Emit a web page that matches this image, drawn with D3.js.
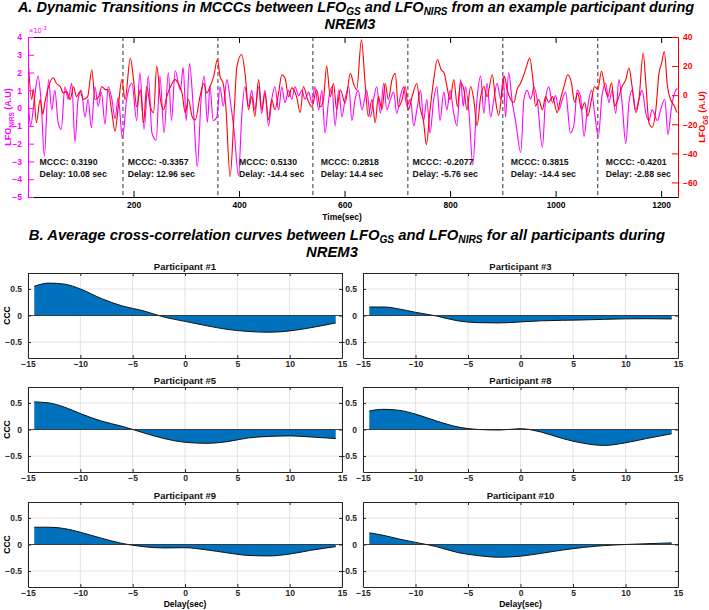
<!DOCTYPE html>
<html>
<head>
<meta charset="utf-8">
<script src="https://cdn.jsdelivr.net/npm/d3@7"></script>
<style>
  body { margin: 0; background: #fff; }
  text { font-family: "Liberation Sans", Arial, Helvetica, sans-serif; }
</style>
</head>
<body>
<svg id="fig" width="709" height="610"></svg>
<script>
// ---------- data: panel A ----------
const timeTicks = [200, 400, 600, 800, 1000, 1200]
const nirsTicks = [4, 3, 2, 1, 0, -1, -2, -3, -4, -5]
const gsTicks = [40, 20, 0, -20, -40, -60]
const segBounds = [180, 360, 540, 720, 900, 1080]
const mcccVals = ['0.3190', '-0.3357', '0.5130', '0.2818', '-0.2077', '0.3815', '-0.4201']
const delayVals = ['10.08', '12.96', '-14.4', '14.4', '-5.76', '-14.4', '-2.88']
const labelTime = [22, 189, 400, 555, 729, 915, 1095]

// LFO NIRS (x10^-3), [time, value]
const nirs = [[0.6,0.3],[5,-1.0],[12,0.5],[19,1.8],[25,0.3],[31,-2.7],[39,1.6],[45,-0.1],[51,1.0],[57,-0.8],[63,-1.2],[70,1.2],[76,0.5],[83,1.4],[89,-1.9],[95,0.5],[101,1.0],[108,-0.5],[114,0.5],[120,-1.1],[127,1.2],[133,0.1],[139,0.9],[146,-0.9],[152,1.2],[159,0.5],[165,-0.6],[171,0.6],[179,-1.7],[187,0.5],[197,1.4],[206,-0.7],[212,2.0],[220,-1.2],[228,1.8],[235,-1.4],[243,-1.8],[250,1.8],[258,-1.4],[266,2.0],[272,-0.7],[279,2.1],[289,1.0],[294,2.3],[300,-0.7],[306,2.5],[314,-0.3],[321,-3.3],[328,0.5],[334,1.8],[340,-0.8],[345,1.2],[351,-0.7],[358,-0.5],[364,1.2],[370,0.1],[377,1.6],[383,0.5],[391,-1.4],[399,-3.8],[405,-0.5],[411,1.2],[418,0.1],[424,1.0],[430,-0.1],[437,1.2],[443,-0.3],[449,1.0],[456,-1.0],[462,0.5],[468,1.2],[475,-0.1],[481,1.2],[487,0.3],[494,1.0],[500,0.5],[506,1.2],[513,0.7],[519,1.0],[525,0.5],[532,0.9],[538,0.3],[544,1.2],[551,-0.1],[557,1.0],[563,-1.4],[570,0.5],[576,1.2],[582,-1.0],[589,1.0],[595,-0.5],[601,0.5],[608,1.2],[614,-0.7],[620,0.5],[626,1.0],[633,-0.1],[642,1.0],[649,-0.5],[655,0.5],[661,1.2],[668,-0.3],[674,1.4],[680,-0.1],[687,0.5],[693,0.9],[699,-0.3],[706,0.7],[712,1.2],[718,0.1],[725,0.5],[731,-1.0],[737,-0.1],[744,1.0],[750,-0.7],[756,0.5],[762,-1.4],[769,0.5],[775,1.2],[781,-0.7],[788,0.9],[794,-0.1],[800,1.0],[807,-0.3],[813,-1.0],[820,1.6],[825,0.1],[829,1.2],[836,-0.3],[843,-3.2],[851,0.5],[858,1.8],[864,-0.3],[870,1.4],[877,-0.5],[883,0.5],[889,1.4],[896,0.5],[901,1.8],[905,-0.5],[911,2.0],[918,0.3],[924,-0.7],[934,-2.5],[940,0.5],[946,1.0],[953,0.5],[959,1.2],[965,0.5],[975,-2.2],[981,0.5],[987,1.2],[994,0.3],[1000,0.7],[1006,-0.1],[1013,0.5],[1019,0.9],[1028,-1.4],[1035,-0.9],[1041,1.0],[1047,0.7],[1054,-1.6],[1060,-0.1],[1068,1.0],[1074,-0.3],[1081,-1.6],[1088,0.7],[1095,1.4],[1101,0.3],[1107,1.0],[1114,-0.3],[1120,1.6],[1126,0.3],[1133,-2.0],[1139,0.3],[1145,1.0],[1152,-0.1],[1158,0.5],[1164,1.0],[1171,-0.3],[1177,-0.7],[1183,-0.1],[1193,-0.7],[1199,-0.1],[1207,0.5],[1213,-1.5],[1219,-0.1],[1226,0.9],[1231,1.1]]

// LFO GS, [time, value]
const gs = [[0.6,23],[7,-3],[10,4],[16,-19],[23,-3],[28,-13],[32,-5],[39,6],[48,12],[54,8],[61,6],[67,1.5],[73,2.6],[80,-3],[86,6],[92,-1],[99,2.6],[105,-3],[113,-1],[121,17.5],[127,-3],[134,-1],[140,6],[146,4],[152,3.7],[159,-12],[165,-25],[171,-8],[178,10.7],[184,-3],[194,25.6],[200,10.7],[206,-8],[213,3.7],[219,-19],[225,6],[232,-8],[238,-12],[244,20],[251,-3],[257,-10],[263,-1],[273,8],[279,10.7],[285,8],[292,1.5],[298,-12],[304,-3],[311,-14.6],[317,-17],[326,-1],[333,8],[339,1.5],[345,6],[352,13],[359,24.5],[364,13],[370,8],[375,-8],[383,-56],[391,-10],[396,20],[405,28],[412,13],[418,-10],[424,-1],[430,-14.6],[437,10.7],[443,-10],[449,1.5],[456,-17],[462,-3],[468,-10],[475,1.5],[481,14],[487,12],[494,-1],[500,5],[509,-1],[516,-12],[522,6],[530,-3],[538,-8],[547,3.7],[554,-8],[560,-3],[566,20],[573,-1],[579,8],[585,-10],[592,3.7],[601,-5.5],[611,15],[617,8],[623,3.7],[632,38],[639,8],[645,-14.6],[652,-3],[658,-19],[664,-1],[671,-10],[677,8],[683,-3],[690,10.7],[696,15],[702,-8],[709,-3],[715,6],[721,-10],[728,-1],[737,8],[743,-8],[750,-19],[755,-34],[762,-10],[769,10.7],[776,24.5],[783,17.5],[789,15],[794,6],[800,-3],[807,10.7],[814,-8],[820,8.5],[826,4],[832,-10],[839,6],[845,-3],[851,-21],[858,-1],[864,6],[870,-1],[880,14],[886,-3],[892,-14],[899,4],[903,13],[908,4],[915,-3],[921,-5],[927,4],[934,8.5],[943,17.6],[951,25.6],[957,10.7],[962,-7.5],[968,-3],[975,-10],[981,-1],[987,-5],[994,-1],[1003,-12],[1009,-3],[1016,6],[1023,14],[1030,8.5],[1036,-5],[1042,1.6],[1049,-10],[1055,-5],[1061,-14.4],[1068,-3],[1074,6],[1080,4],[1087,16.5],[1093,6],[1099,-1],[1106,8.5],[1112,-7.5],[1118,-3],[1126,6],[1133,10.7],[1139,18.7],[1145,6],[1152,-12],[1158,-3],[1166,29],[1171,8.5],[1177,-19],[1183,-22],[1190,-10],[1196,15],[1201,22],[1206,30],[1212,6],[1218,-3],[1225,-7.5],[1230,-12]]

// ---------- data: panel B ----------
const delays = [-14.4, -13, -11.5, -10, -8, -6, -4, -2, 0, 2, 4, 6, 8, 10, 12, 14.4]
const delayTicks = [-15, -10, -5, 0, 5, 10, 15]
const cccTicks = [-0.5, 0, 0.5]
const participants = ['Participant #1', 'Participant #3', 'Participant #5', 'Participant #8', 'Participant #9', 'Participant #10']
const ccc1 = [0.55, 0.61, 0.59, 0.50, 0.32, 0.18, 0.09, -0.03, -0.11, -0.19, -0.26, -0.30, -0.315, -0.29, -0.23, -0.14]
const ccc3 = [0.16, 0.16, 0.12, 0.06, -0.01, -0.10, -0.135, -0.14, -0.12, -0.10, -0.09, -0.083, -0.072, -0.063, -0.06, -0.065]
const ccc5 = [0.52, 0.50, 0.42, 0.30, 0.16, 0.06, -0.06, -0.17, -0.24, -0.26, -0.23, -0.16, -0.13, -0.12, -0.14, -0.17]
const ccc8 = [0.35, 0.38, 0.36, 0.29, 0.16, 0.05, 0.0, -0.01, 0.015, -0.05, -0.17, -0.26, -0.30, -0.25, -0.17, -0.08]
const ccc9 = [0.325, 0.325, 0.30, 0.23, 0.12, 0.02, -0.04, -0.065, -0.06, -0.10, -0.156, -0.205, -0.215, -0.18, -0.11, -0.04]
const ccc10 = [0.22, 0.17, 0.10, 0.04, -0.04, -0.15, -0.21, -0.24, -0.22, -0.165, -0.105, -0.055, -0.02, 0.0, 0.015, 0.03]
const cccCurves = [ccc1, ccc3, ccc5, ccc8, ccc9, ccc10]

// ---------- setup ----------
const svg = d3.select('#fig')
const MAG = '#ff00ff'
const RED = '#ff0000'
const AXC = '#262626'
const FS = 8.5

// text with subscripts; parts = [text, isSub]
function richText(g, parts, subSize, shift) {
  parts.forEach((p, i) => {
    const prevSub = i > 0 && parts[i - 1][1]
    const t = g.append('tspan').text(p[0])
    if (p[1]) t.attr('font-size', subSize).attr('dy', shift)
    else if (prevSub) t.attr('dy', -shift)
  })
  return g
}

function styleAxis(g, color) {
  g.selectAll('text').attr('font-size', FS).attr('font-weight', 'bold').attr('fill', color)
  g.selectAll('line').attr('stroke', color)
  g.select('.domain').attr('stroke', color)
}

// ---------- panel A ----------
const A = { left: 28, right: 678, top: 37, bottom: 197 }
const x = d3.scaleLinear().domain([0, 1232]).range([A.left, A.right])
const yL = d3.scaleLinear().domain([-5, 4]).range([A.bottom, A.top])
const yR = d3.scaleLinear().domain([-70, 40]).range([A.bottom, A.top])

richText(svg.append('text')
  .attr('x', 356).attr('y', 12).attr('text-anchor', 'middle')
  .attr('font-size', 14.5).attr('font-weight', 'bold').attr('font-style', 'italic'),
  [['A. Dynamic Transitions in MCCCs between LFO', false], ['GS', true], [' and LFO', false], ['NIRS', true], [' from an example participant during', false]], 10, 2.5)
svg.append('text').attr('x', 350).attr('y', 29).attr('text-anchor', 'middle')
  .attr('font-size', 14.5).attr('font-weight', 'bold').attr('font-style', 'italic').text('NREM3')

const pA = svg.append('g')

// segment separators
pA.selectAll('.seg').data(segBounds).enter().append('line')
  .attr('class', 'seg')
  .attr('x1', d => x(d)).attr('x2', d => x(d))
  .attr('y1', A.top).attr('y2', A.bottom)
  .attr('stroke', '#333').attr('stroke-width', 1).attr('stroke-dasharray', '4,3')

const clip = svg.append('clipPath').attr('id', 'clipA')
clip.append('rect').attr('x', A.left).attr('y', A.top).attr('width', A.right - A.left).attr('height', A.bottom - A.top)

const lineN = d3.line().x(d => x(d[0])).y(d => yL(d[1])).curve(d3.curveMonotoneX)
const lineG = d3.line().x(d => x(d[0])).y(d => yR(d[1])).curve(d3.curveMonotoneX)

pA.append('path').datum(nirs).attr('d', lineN)
  .attr('fill', 'none').attr('stroke', MAG).attr('stroke-width', 1.1).attr('clip-path', 'url(#clipA)')
pA.append('path').datum(gs).attr('d', lineG)
  .attr('fill', 'none').attr('stroke', RED).attr('stroke-width', 1.1).attr('clip-path', 'url(#clipA)')

// annotations
const ann = pA.selectAll('.ann').data(mcccVals).enter().append('g').attr('class', 'ann')
ann.append('text')
  .attr('x', (d, i) => x(labelTime[i])).attr('y', yL(-3.2))
  .attr('font-size', FS + 0.2).attr('font-weight', 'bold').attr('fill', '#111')
  .text(d => `MCCC: ${d}`)
ann.append('text')
  .attr('x', (d, i) => x(labelTime[i])).attr('y', yL(-3.85))
  .attr('font-size', FS + 0.2).attr('font-weight', 'bold').attr('fill', '#111')
  .text((d, i) => `Delay: ${delayVals[i]} sec`)

// axes
const gxb = pA.append('g').attr('transform', `translate(0,${A.bottom})`)
  .call(d3.axisBottom(x).tickValues(timeTicks).tickSize(-6).tickSizeOuter(0).tickPadding(5).tickFormat(d3.format('d')))
styleAxis(gxb, '#000')
const gxt = pA.append('g').attr('transform', `translate(0,${A.top})`)
  .call(d3.axisTop(x).tickValues(timeTicks).tickSize(-6).tickSizeOuter(0).tickFormat(''))
styleAxis(gxt, '#000')
const gyl = pA.append('g').attr('transform', `translate(${A.left},0)`)
  .call(d3.axisLeft(yL).tickValues(nirsTicks).tickSize(-6).tickSizeOuter(0).tickPadding(6))
styleAxis(gyl, MAG)
const gyr = pA.append('g').attr('transform', `translate(${A.right},0)`)
  .call(d3.axisRight(yR).tickValues(gsTicks).tickSize(-6).tickSizeOuter(0).tickPadding(5))
styleAxis(gyr, RED)

// exponent and axis labels
pA.append('text').attr('x', A.left + 1).attr('y', A.top - 4)
  .attr('font-size', 7.5).attr('fill', MAG)
  .text('\u00d710')
  .append('tspan').attr('font-size', 5.5).attr('dy', -3).text('-3')

pA.append('text').attr('x', 342).attr('y', 220).attr('text-anchor', 'middle')
  .attr('font-size', FS).attr('font-weight', 'bold').text('Time(sec)')

richText(pA.append('text')
  .attr('transform', `translate(11,${(A.top + A.bottom) / 2}) rotate(-90)`)
  .attr('text-anchor', 'middle').attr('font-size', 9).attr('font-weight', 'bold').attr('fill', MAG),
  [['LFO', false], ['NIRS', true], [' (A.U)', false]], 6.5, 2.5)

richText(pA.append('text')
  .attr('transform', `translate(705,${(A.top + A.bottom) / 2}) rotate(-90)`)
  .attr('text-anchor', 'middle').attr('font-size', 9).attr('font-weight', 'bold').attr('fill', RED),
  [['LFO', false], ['GS', true], [' (A.U)', false]], 6.5, 2.5)

// ---------- panel B ----------
richText(svg.append('text')
  .attr('x', 347).attr('y', 240).attr('text-anchor', 'middle')
  .attr('font-size', 14.8).attr('font-weight', 'bold').attr('font-style', 'italic'),
  [['B. Average cross-correlation curves between LFO', false], ['GS', true], [' and LFO', false], ['NIRS', true], [' for all participants during', false]], 10.2, 2.5)
svg.append('text').attr('x', 332).attr('y', 257).attr('text-anchor', 'middle')
  .attr('font-size', 14.8).attr('font-weight', 'bold').attr('font-style', 'italic').text('NREM3')

const cols = [[28, 342], [363, 678]]
const rowTops = [273, 387, 502]
const rowH = 85

participants.forEach((name, i) => {
  const col = i % 2
  const row = Math.floor(i / 2)
  const x0 = cols[col][0], x1 = cols[col][1]
  const top = rowTops[row], bot = top + rowH
  const xs = d3.scaleLinear().domain([-15, 15]).range([x0, x1])
  const ys = d3.scaleLinear().domain([-0.8, 0.8]).range([bot, top])
  const g = svg.append('g').attr('class', `panel panel-${i}`)
  const pts = delays.map((d, k) => [d, cccCurves[i][k]])

  // grid
  g.selectAll('.gx').data(delayTicks).enter().append('line')
    .attr('x1', d => xs(d)).attr('x2', d => xs(d)).attr('y1', top).attr('y2', bot)
    .attr('stroke', '#e3e3e3').attr('stroke-width', 1)
  g.selectAll('.gy').data(cccTicks).enter().append('line')
    .attr('x1', x0).attr('x2', x1).attr('y1', d => ys(d)).attr('y2', d => ys(d))
    .attr('stroke', '#e3e3e3').attr('stroke-width', 1)

  // area + edge
  const area = d3.area().x(d => xs(d[0])).y0(ys(0)).y1(d => ys(d[1])).curve(d3.curveMonotoneX)
  const line = d3.line().x(d => xs(d[0])).y(d => ys(d[1])).curve(d3.curveMonotoneX)
  g.append('path').datum(pts).attr('d', area).attr('fill', '#0072BD')
  g.append('path').datum(pts).attr('d', line).attr('fill', 'none').attr('stroke', '#111').attr('stroke-width', 1)
  g.append('line').attr('x1', x0).attr('x2', x1).attr('y1', ys(0)).attr('y2', ys(0))
    .attr('stroke', '#222').attr('stroke-width', 0.8)

  // axes
  const ab = g.append('g').attr('transform', `translate(0,${bot})`)
    .call(d3.axisBottom(xs).tickValues(delayTicks).tickSize(-3).tickSizeOuter(0).tickPadding(3))
  styleAxis(ab, AXC)
  const at = g.append('g').attr('transform', `translate(0,${top})`)
    .call(d3.axisTop(xs).tickValues(delayTicks).tickSize(-3).tickSizeOuter(0).tickFormat(''))
  styleAxis(at, AXC)
  const al = g.append('g').attr('transform', `translate(${x0},0)`)
    .call(d3.axisLeft(ys).tickValues(cccTicks).tickSize(-3).tickSizeOuter(0).tickPadding(6).tickFormat(d3.format('')))
  styleAxis(al, AXC)
  const ar = g.append('g').attr('transform', `translate(${x1},0)`)
    .call(d3.axisRight(ys).tickValues(cccTicks).tickSize(-3).tickSizeOuter(0).tickFormat(''))
  styleAxis(ar, AXC)

  g.append('text').attr('x', (x0 + x1) / 2).attr('y', top - 3).attr('text-anchor', 'middle')
    .attr('font-size', 9.5).attr('font-weight', 'bold').attr('fill', '#111').text(name)

  if (col === 0) {
    g.append('text').attr('transform', `translate(10,${(top + bot) / 2}) rotate(-90)`)
      .attr('text-anchor', 'middle').attr('font-size', FS).attr('font-weight', 'bold').text('CCC')
  }
  if (row === 2) {
    g.append('text').attr('x', (x0 + x1) / 2).attr('y', bot + 20).attr('text-anchor', 'middle')
      .attr('font-size', FS).attr('font-weight', 'bold').text('Delay(sec)')
  }
})
</script>
</body>
</html>
